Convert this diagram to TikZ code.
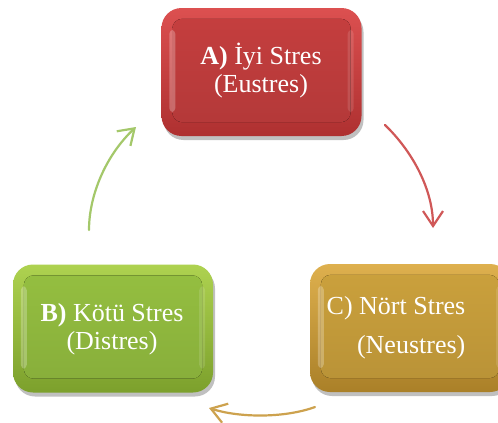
\documentclass[tikz,border=0pt]{standalone}
\usepackage{fontspec}
\setmainfont{Liberation Serif}
\usetikzlibrary{arrows.meta,shadows,calc}

\definecolor{redTop}{HTML}{DC5050}
\definecolor{redBot}{HTML}{AE3030}
\definecolor{redMid}{HTML}{C43E3E}
\definecolor{redLine}{HTML}{D05858}
\definecolor{grnTop}{HTML}{AED250}
\definecolor{grnBot}{HTML}{7CA02C}
\definecolor{grnMid}{HTML}{94BE40}
\definecolor{grnLine}{HTML}{A4C86A}
\definecolor{gldTop}{HTML}{DEB04E}
\definecolor{gldBot}{HTML}{AA8028}
\definecolor{gldMid}{HTML}{CAA03C}
\definecolor{gldLine}{HTML}{CDA24E}

\tikzset{
  glossbox/.style={rounded corners=20pt, minimum width=200pt, minimum height=128pt,
    inner sep=0pt, draw=none,
    drop shadow={shadow xshift=2pt, shadow yshift=-4pt, opacity=0.35, fill=black!70}},
  boxtext/.style={text=white, font=\fontsize{26}{28}\selectfont, align=center, inner sep=0pt},
  cycarrow/.style={line width=2.2pt, line cap=round,
    -{Straight Barb[length=15pt, width=20pt, line width=2.2pt]}}
}

\newcommand{\glossinner}[3]{%
  % inner bevel panel and left-edge sheen of a box
  \fill[rounded corners=10pt, top color=#2, bottom color=#3]
    ($(#1.north west)+(11,11)$) rectangle ($(#1.south east)+(-11,-14)$);
  \fill[white, opacity=0.25, rounded corners=4pt]
    ($(#1.north west)+(8,22)$) rectangle ($(#1.south west)+(14,-24)$);
  \fill[white, opacity=0.12, rounded corners=4pt]
    ($(#1.north east)+(-14,22)$) rectangle ($(#1.south east)+(-8,-24)$);
}

\begin{document}
\begin{tikzpicture}[x=1pt, y=-1pt]
  \clip (0,0) rectangle (498,423);
  \fill[white] (0,0) rectangle (498,423);

  % the three boxes
  \node[glossbox, top color=redTop, bottom color=redBot] (a) at (261.5,72) {};
  \glossinner{a}{redMid}{redMid!92!black}
  \node[glossbox, top color=grnTop, bottom color=grnBot] (b) at (113,328.5) {};
  \glossinner{b}{grnMid}{grnMid!92!black}
  \node[glossbox, top color=gldTop, bottom color=gldBot] (c) at (410,328) {};
  \glossinner{c}{gldMid}{gldMid!92!black}

  % labels
  \node[boxtext] (ta) at (261,71) {\textbf{A)} İyi Stres\\(Eustres)};
  \node[boxtext] (tb) at (112,329) {\textbf{B)} Kötü Stres\\(Distres)};
  \node[boxtext, align=right, font=\fontsize{26}{39}\selectfont] (tc) at (396,328)
    {C) Nört Stres\\(Neustres)};

  % connector ends
  \coordinate (a1) at (385,125);
  \coordinate (c0) at (433,228);
  \coordinate (c1) at (315,407);
  \coordinate (b0) at (209,408);
  \coordinate (b1) at (89,230);
  \coordinate (a0) at (136,127);

  % cycle arrows
  \draw[cycarrow, redLine] (a1) .. controls (413,152) and (433,190) .. (c0);
  \draw[cycarrow, gldLine] (c1) .. controls (285,418) and (240,418) .. (b0);
  \draw[cycarrow, grnLine] (b1) .. controls (89,195) and (106,155) .. (a0);
\end{tikzpicture}
\end{document}
